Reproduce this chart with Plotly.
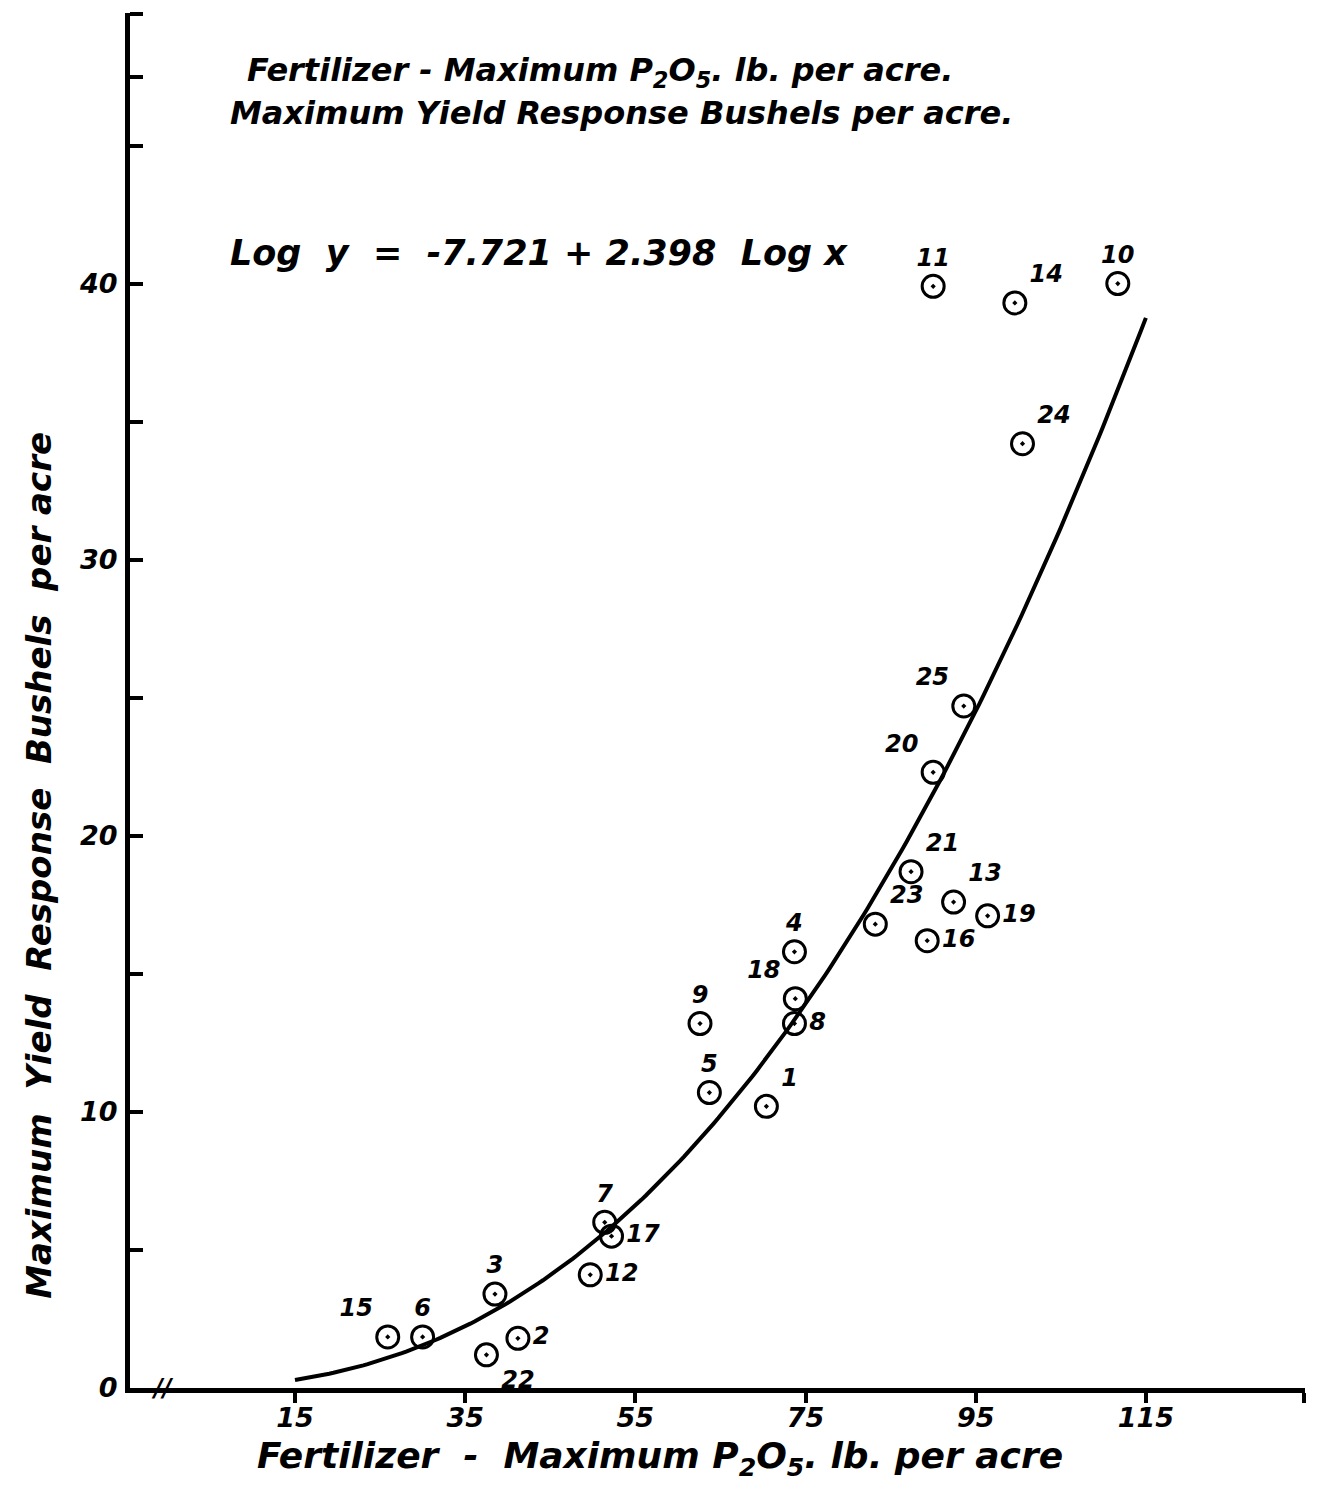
import numpy as np
import plotly.graph_objects as go

# Field trials: maximum P2O5 applied (lb/acre) and maximum yield response (bu/acre)
trial_ids = ["15", "6", "3", "22", "2", "12", "7", "17", "9", "5", "1", "4", "18", "8",
             "23", "21", "16", "13", "19", "20", "25", "24", "11", "14", "10"]
p2o5_lb = [25.9, 30.0, 38.5, 37.5, 41.2, 49.7, 51.4, 52.2, 62.6, 63.7, 70.4, 73.7, 73.8, 73.7,
           83.2, 87.4, 89.3, 92.4, 96.4, 90.0, 93.6, 100.5, 90.0, 99.6, 111.7]
yield_bu = [1.85, 1.85, 3.4, 1.2, 1.8, 4.1, 6.0, 5.5, 13.2, 10.7, 10.2, 15.8, 14.1, 13.2,
            16.8, 18.7, 16.2, 17.6, 17.1, 22.3, 24.7, 34.2, 39.9, 39.3, 40.0]

# Fitted curve: ln y = -7.721 + 2.398 ln x
fit_a = -7.721
fit_b = 2.398
fit_x_min, fit_x_max = 15, 115

x_ticks = [15, 35, 55, 75, 95, 115]
y_labels = [0, 10, 20, 30, 40]

# where each trial number sits around its marker
label_pos = ["top left", "top center", "top center", "bottom right", "middle right",
             "middle right", "top center", "middle right", "top center", "top center",
             "top right", "top center", "top left", "middle right", "top right",
             "top right", "middle right", "top right", "middle right", "top left",
             "top left", "top right", "top center", "top right", "top center"]

X_RANGE = [-4.39, 133.7]
Y_RANGE = [0, 49.8]
FONT = "DejaVu Sans"

fx = np.linspace(fit_x_min, fit_x_max, 200)
fy = np.exp(fit_a + fit_b * np.log(fx))

fig = go.Figure()
fig.add_trace(go.Scatter(
    x=fx, y=fy, mode="lines",
    line=dict(color="black", width=4),
    hoverinfo="skip", showlegend=False,
))
fig.add_trace(go.Scatter(
    x=p2o5_lb, y=yield_bu, mode="markers+text",
    text=trial_ids, textposition=label_pos,
    textfont=dict(family=FONT, size=24, color="black", style="italic", weight="bold"),
    marker=dict(symbol="circle-open-dot", size=22, color="black", line=dict(width=3, color="black")),
    showlegend=False,
))

tickfont = dict(family=FONT, size=27, color="black", style="italic", weight="bold")

y_tickvals = [0, 5, 10, 15, 20, 25, 30, 35, 40, 45, 47.5, 49.75]
y_ticktext = [str(v) if v in y_labels else "" for v in y_tickvals]

fig.update_xaxes(
    range=X_RANGE, showgrid=False, zeroline=False,
    showline=True, linecolor="black", linewidth=5,
    ticks="outside", ticklen=10, tickwidth=4, tickcolor="black",
    tickvals=x_ticks + [133.6],
    ticktext=[str(v) for v in x_ticks] + [""],
    tickfont=tickfont, ticklabelstandoff=-8,
)
fig.update_yaxes(
    range=Y_RANGE, showgrid=False, zeroline=False,
    showline=True, linecolor="black", linewidth=5,
    ticks="inside", ticklen=13, tickwidth=4, tickcolor="black",
    tickvals=y_tickvals, ticktext=y_ticktext,
    tickfont=tickfont, ticklabelstandoff=2,
)

txt = dict(family=FONT, color="black", style="italic", weight="bold")
annotations = [
    dict(text="Fertilizer - Maximum P<sub>2</sub>O<sub>5</sub>. lb. per acre.",
         x=0.098, y=0.957, size=32),
    dict(text="Maximum Yield Response Bushels per acre.",
         x=0.083, y=0.927, size=32),
    dict(text="Log  y  =  -7.721 + 2.398  Log x",
         x=0.083, y=0.8255, size=35),
]
for a in annotations:
    fig.add_annotation(text=a["text"], x=a["x"], y=a["y"], xref="paper", yref="paper",
                       xanchor="left", yanchor="middle", showarrow=False,
                       font=dict(txt, size=a["size"]))

# axis titles
fig.add_annotation(text="Fertilizer  -  Maximum P<sub>2</sub>O<sub>5</sub>. lb. per acre",
                   x=0.451, y=-0.051, xref="paper", yref="paper",
                   xanchor="center", yanchor="middle", showarrow=False,
                   font=dict(txt, size=36))
fig.add_annotation(text="Maximum  Yield  Response  Bushels  per acre",
                   x=-0.078, y=0.38, xref="paper", yref="paper", textangle=-90,
                   xanchor="center", yanchor="middle", showarrow=False,
                   font=dict(txt, size=34))
# axis break
fig.add_annotation(text="//", x=-0.6, y=0, xref="x", yref="y",
                   xanchor="center", yanchor="middle", showarrow=False,
                   font=dict(txt, size=24))

fig.update_layout(
    width=1321, height=1485,
    margin=dict(l=130, r=16, t=13, b=97),
    paper_bgcolor="white", plot_bgcolor="white",
)

fig.write_html("out.html")
